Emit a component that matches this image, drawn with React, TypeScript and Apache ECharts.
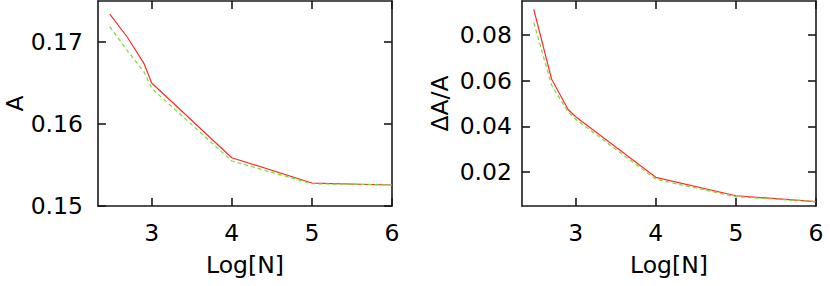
import React, { useEffect, useRef } from "react";
import * as echarts from "echarts";

const logN = [2.477, 2.699, 2.903, 3, 4, 5, 6];
const aRed = [0.17341, 0.17055, 0.1674, 0.165, 0.15589, 0.1528, 0.15256];
const aGreen = [0.17187, 0.1689, 0.16638, 0.16435, 0.15549, 0.15272, 0.15256];
const dRed = [0.09135, 0.06075, 0.04747, 0.0442, 0.0176, 0.0095, 0.0069];
const dGreen = [0.08547, 0.0581, 0.0464, 0.0431, 0.01672, 0.00908, 0.0069];
const xTicks = [3, 4, 5, 6];
const aTicks = [0.15, 0.16, 0.17];
const dTicks = [0.02, 0.04, 0.06, 0.08];

const FONT = "DejaVu Sans";
const AX = "#1a1a1a";

function pairs(xs: number[], ys: number[]) {
  return xs.map((x, i) => [x, ys[i]]);
}

export default function App() {
  const ref = useRef<HTMLDivElement>(null);
  useEffect(() => {
    document.body.style.margin = "0";
    const chart = echarts.init(ref.current!, null, { renderer: "svg" });
    const xAxisBase = (grid: number) => ({
      type: "value",
      gridIndex: grid,
      min: 2.33,
      max: 6,
      axisLine: { show: true, onZero: false, lineStyle: { color: AX, width: 1.6 } },
      axisTick: { show: true, inside: true, length: 8, customValues: xTicks, lineStyle: { color: AX, width: 1.6 } },
      splitLine: { show: false },
    });
    const yAxisBase = (grid: number, min: number, max: number, ticks: number[]) => ({
      type: "value",
      gridIndex: grid,
      min,
      max,
      axisLine: { show: true, onZero: false, lineStyle: { color: AX, width: 1.6 } },
      axisTick: { show: true, inside: true, length: 8, customValues: ticks, lineStyle: { color: AX, width: 1.6 } },
      splitLine: { show: false },
    });
    const labelStyle = { color: "#000", fontFamily: FONT, fontSize: 23.5 };
    const nameStyle = { color: "#000", fontFamily: FONT, fontSize: 23.5 };
    chart.setOption({
      animation: false,
      grid: [
        { left: 98, width: 294, top: 1, height: 205 },
        { left: 522, width: 294, top: 1, height: 205 },
      ],
      xAxis: [
        {
          ...xAxisBase(0),
          position: "bottom",
          name: "Log[N]",
          nameLocation: "middle",
          nameGap: 47,
          nameTextStyle: nameStyle,
          axisLabel: { ...labelStyle, margin: 15, customValues: xTicks, formatter: (v: number) => String(v) },
        },
        { ...xAxisBase(0), position: "top", axisLabel: { show: false } },
        {
          ...xAxisBase(1),
          position: "bottom",
          name: "Log[N]",
          nameLocation: "middle",
          nameGap: 47,
          nameTextStyle: nameStyle,
          axisLabel: { ...labelStyle, margin: 15, customValues: xTicks, formatter: (v: number) => String(v) },
        },
        { ...xAxisBase(1), position: "top", axisLabel: { show: false } },
      ],
      yAxis: [
        {
          ...yAxisBase(0, 0.15, 0.175, aTicks),
          position: "left",
          name: "A",
          nameLocation: "middle",
          nameGap: 70,
          nameTextStyle: nameStyle,
          axisLabel: { ...labelStyle, margin: 15, customValues: aTicks, formatter: (v: number) => v.toFixed(2) },
        },
        { ...yAxisBase(0, 0.15, 0.175, aTicks), position: "right", axisLabel: { show: false } },
        {
          ...yAxisBase(1, 0.005, 0.095, dTicks),
          position: "left",
          name: "ΔA/A",
          nameLocation: "middle",
          nameGap: 70,
          nameTextStyle: nameStyle,
          axisLabel: { ...labelStyle, margin: 10, customValues: dTicks, formatter: (v: number) => v.toFixed(2) },
        },
        { ...yAxisBase(1, 0.005, 0.095, dTicks), position: "right", axisLabel: { show: false } },
      ],
      series: [
        {
          type: "line", xAxisIndex: 0, yAxisIndex: 0, data: pairs(logN, aRed), showSymbol: false,
          lineStyle: { color: "#ff2a2a", width: 1.2 }, z: 2,
        },
        {
          type: "line", xAxisIndex: 0, yAxisIndex: 0, data: pairs(logN, aGreen), showSymbol: false,
          lineStyle: { color: "#77dd33", width: 1.2, type: [4, 3] }, z: 3,
        },
        {
          type: "line", xAxisIndex: 2, yAxisIndex: 2, data: pairs(logN, dRed), showSymbol: false,
          lineStyle: { color: "#ff2a2a", width: 1.2 }, z: 2,
        },
        {
          type: "line", xAxisIndex: 2, yAxisIndex: 2, data: pairs(logN, dGreen), showSymbol: false,
          lineStyle: { color: "#77dd33", width: 1.2, type: [4, 3] }, z: 3,
        },
      ],
    });
    return () => chart.dispose();
  }, []);
  return <div ref={ref} style={{ width: 830, height: 286 }} />;
}
